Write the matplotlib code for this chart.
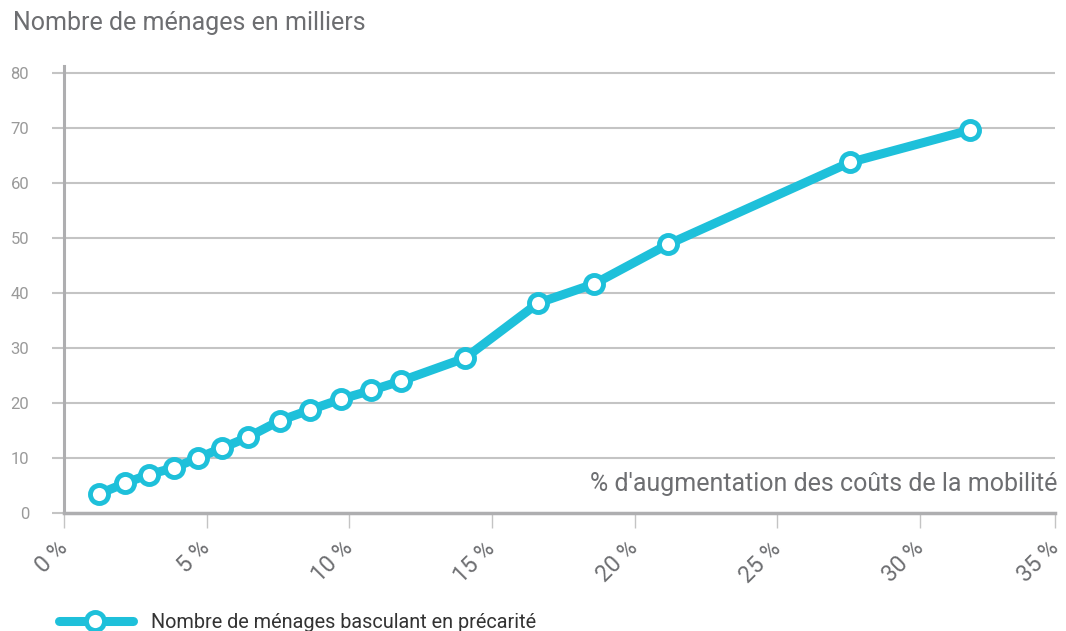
import matplotlib
matplotlib.use("Agg")
import matplotlib.pyplot as plt
from matplotlib.lines import Line2D

x_pct = [1.24, 2.13, 2.97, 3.84, 4.69, 5.53, 6.45, 7.56, 8.64, 9.70, 10.76, 11.8,
         14.06, 16.62, 18.59, 21.18, 27.55, 31.76]
menages = [3.5, 5.4, 7.0, 8.2, 10.0, 11.8, 13.8, 16.8, 18.8, 20.7, 22.3, 24.0,
           28.2, 38.2, 41.7, 48.9, 63.8, 69.7]
x_ticks = [0, 5, 10, 15, 20, 25, 30, 35]
x_ticklabels = ["0 %", "5 %", "10 %", "15 %", "20 %", "25 %", "30 %", "35 %"]
y_ticks = [0, 10, 20, 30, 40, 50, 60, 70, 80]

plt.rcParams['font.family'] = ['Roboto', 'DejaVu Sans']

CYAN = "#1ec0da"
GRID = "#c4c4c4"
AXIS = "#aeaeb0"
TXT = "#6d6e71"

fig = plt.figure(figsize=(10.66, 6.31), dpi=100)
ax = fig.add_axes([0.060, 0.187, 0.930, 0.708])

ax.plot(x_pct, menages, color=CYAN, lw=6.5, marker="o", markersize=13,
        markerfacecolor="white", markeredgecolor=CYAN, markeredgewidth=3.5,
        solid_capstyle="round", zorder=3, clip_on=False)

ax.set_xlim(0, 34.75)
ax.set_ylim(0, 81.3)
ax.set_yticks(y_ticks)
ax.set_yticklabels([str(v) for v in y_ticks], color="#9a9a9a", fontsize=12)
ax.set_xticks([t if t < 35 else 34.75 for t in x_ticks])
ax.set_xticklabels(x_ticklabels, rotation=45, ha="right", va="center",
                   rotation_mode="anchor", color=TXT, fontsize=16.5)
ax.tick_params(axis="x", length=11, width=1, color=GRID, pad=12)
ax.tick_params(axis="y", length=9, width=1.5, color=GRID, pad=16)

for v in y_ticks[1:]:
    ax.axhline(v, color=GRID, lw=1.5, zorder=1)

for s in ["top", "right"]:
    ax.spines[s].set_visible(False)
ax.spines["left"].set_color(AXIS)
ax.spines["left"].set_linewidth(2.2)
ax.spines["bottom"].set_color(AXIS)
ax.spines["bottom"].set_linewidth(2.5)

ax.text(1.002, 0.065, "% d'augmentation des coûts de la mobilité", transform=ax.transAxes,
        ha="right", va="center", fontsize=18, color=TXT)

fig.text(0.012, 0.963, "Nombre de ménages en milliers", ha="left", va="center",
         fontsize=18, color=TXT)

leg_line = Line2D([0.055, 0.125], [0.016, 0.016], transform=fig.transFigure, color=CYAN,
                  lw=6.5, solid_capstyle="round")
fig.add_artist(leg_line)
leg_mark = Line2D([0.089], [0.016], transform=fig.transFigure, color=CYAN, lw=0,
                  marker="o", markersize=13, markerfacecolor="white",
                  markeredgecolor=CYAN, markeredgewidth=3.5)
fig.add_artist(leg_mark)
fig.text(0.142, 0.014, "Nombre de ménages basculant en précarité", ha="left", va="center",
         fontsize=14.3, color="#333333")

fig.savefig("out.png", dpi=100)
